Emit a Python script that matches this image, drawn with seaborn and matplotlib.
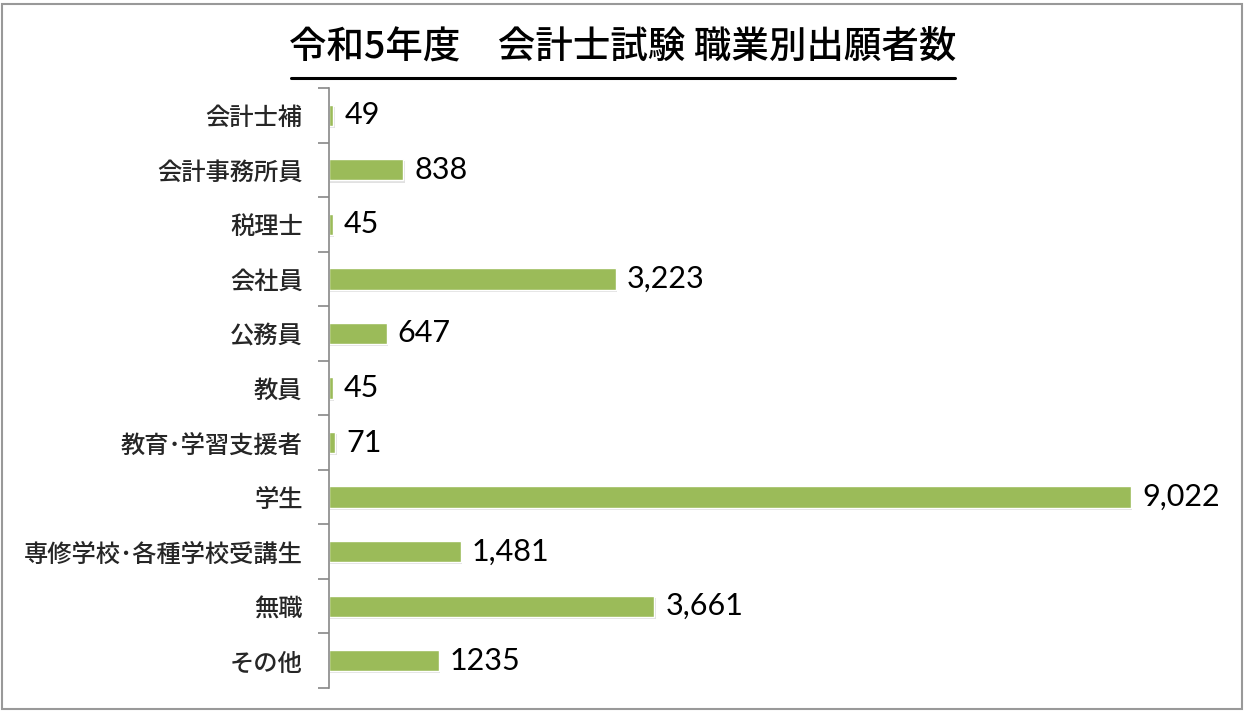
import matplotlib
matplotlib.use("Agg")
import matplotlib.pyplot as plt
import matplotlib.patheffects as pe
from matplotlib.lines import Line2D
from matplotlib.patches import Rectangle
import seaborn as sns
import pandas as pd
import numpy as np

categories = ["会計士補", "会計事務所員", "税理士", "会社員", "公務員", "教員",
              "教育･学習支援者", "学生", "専修学校･各種学校受講生", "無職", "その他"]
values = [49, 838, 45, 3223, 647, 45, 71, 9022, 1481, 3661, 1235]
value_labels = ["49", "838", "45", "3,223", "647", "45", "71", "9,022", "1,481", "3,661", "1235"]
title = "令和5年度　会計士試験 職業別出願者数"

sns.set_theme(style="white")
plt.rcParams['font.family'] = ['Noto Sans CJK JP', 'DejaVu Sans']

df = pd.DataFrame({"category": categories, "value": values})

fig = plt.figure(figsize=(12.45, 7.12), dpi=100)
ax = fig.add_axes([329/1245, 1-688/712, (1218-329)/1245, 600/712])

sns.barplot(data=df, y="category", x="value", orient="h", color="#9BBB59",
            width=0.39, ax=ax, saturation=1)
for p in ax.patches:
    p.set_path_effects([pe.SimplePatchShadow(offset=(1, -1.5), shadow_rgbFace="#aaaaaa", alpha=0.35), pe.Normal()])

ax.set_xlim(0, 10000)
ax.set_ylim(len(categories) - 0.5, -0.5)
ax.set_xlabel("")
ax.set_ylabel("")
ax.set_xticks([])
for s in ["top", "right", "bottom"]:
    ax.spines[s].set_visible(False)
ax.spines["left"].set_color("#888888")
ax.spines["left"].set_linewidth(1.2)

ax.set_yticks(range(len(categories)))
ax.set_yticklabels(categories, fontsize=17.5, fontweight="medium")
ax.tick_params(axis="y", which="major", length=0, pad=19)
ax.set_yticks(np.arange(-0.5, len(categories), 1.0), minor=True)
ax.tick_params(axis="y", which="minor", length=8, width=1.2, color="#888888", direction="out", left=True)

ax.bar_label(ax.containers[0], labels=value_labels, padding=8, fontsize=22,
             family=['Lato', 'DejaVu Sans'], color="black")

fig.text(623/1245, 1-47/712, title, ha="center", va="center", fontsize=27,
         fontweight="medium", color="black")
fig.add_artist(Line2D([291/1245, 955/1245], [1-78/712, 1-78/712], color="black", lw=2.2,
                      transform=fig.transFigure))

fig.patches.append(Rectangle((2/1245, 3/712), 1240/1245, 705/712, transform=fig.transFigure,
                             fill=False, edgecolor="#999999", lw=1.5))

fig.savefig("out.png", dpi=100)
